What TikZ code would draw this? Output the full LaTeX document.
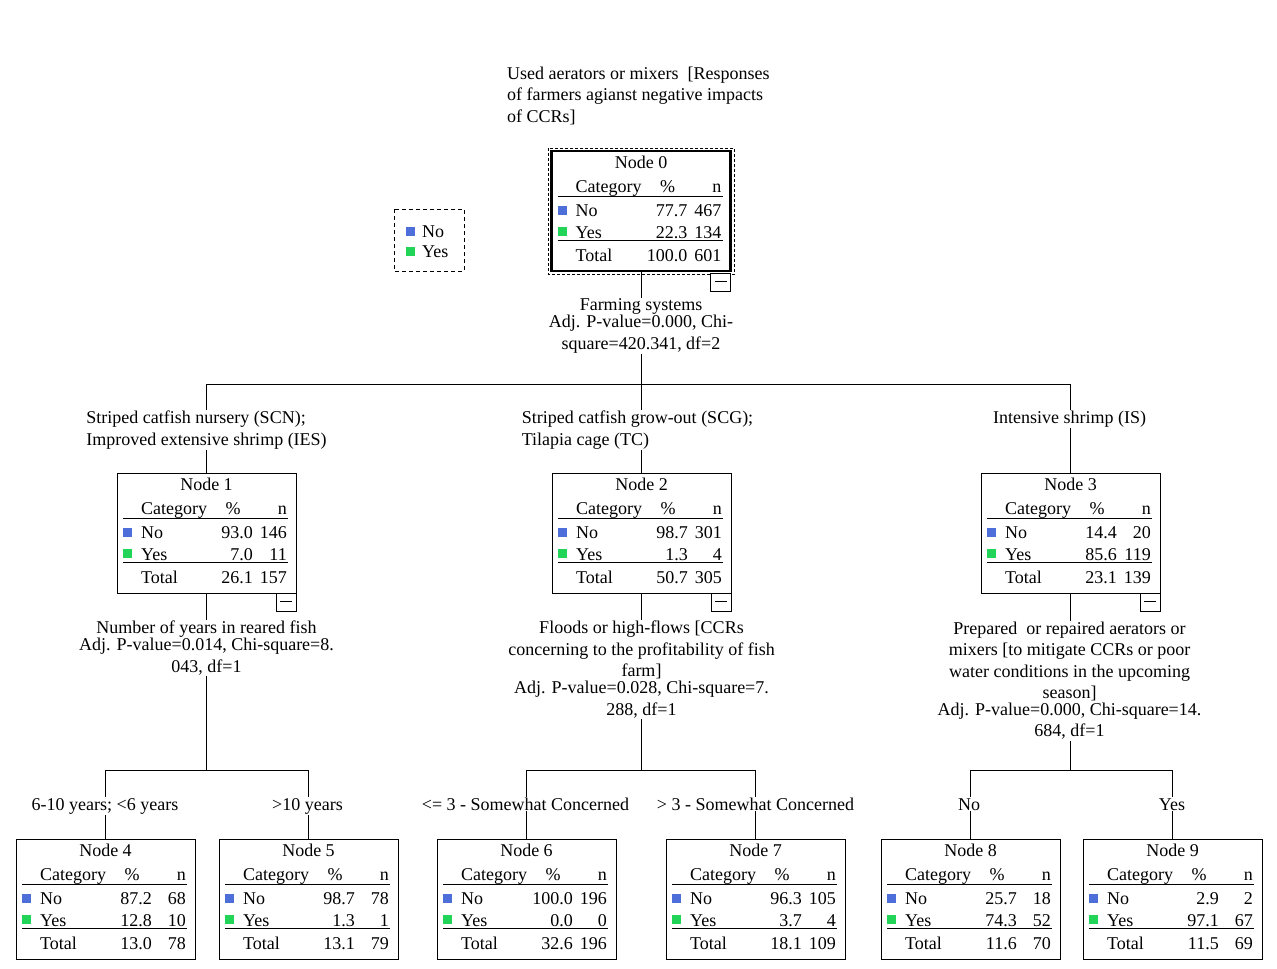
\documentclass[tikz,border=0pt]{standalone}
\usepackage{fontspec}
\setmainfont{Liberation Serif}
\usetikzlibrary{calc}
\definecolor{nocol}{RGB}{78,110,218}
\definecolor{yescol}{RGB}{34,212,88}
\tikzset{
  txt/.style={inner sep=0pt, font=\fontsize{18}{21.5}\selectfont},
  boxnode/.style={draw, line width=1pt, minimum width=179pt, minimum height=120pt, inner sep=0pt, outer sep=0pt, anchor=north west},
  cbox/.style={draw, fill=white, line width=1pt, minimum width=20pt, minimum height=18pt, inner sep=0pt, outer sep=0pt, anchor=north east},
  lbl/.style={txt, fill=white, inner sep=1pt, align=center, anchor=north},
  lbll/.style={txt, fill=white, inner sep=1pt, align=left, anchor=north},
  leaflbl/.style={txt, fill=white, inner sep=1pt, anchor=base},
  conn/.style={line width=1pt},
  sepline/.style={line width=1pt},
}
\newcommand\statbox[9]{%
  \node[boxnode] (n#1) at (#2,#3) {};
  \node[txt, anchor=base] (n#1t) at ($(n#1.north west)+(89.5,17)$) {Node #1};
  \node[txt, anchor=base west] (n#1c) at ($(n#1.north west)+(24,41.5)$) {Category};
  \node[txt, anchor=base] (n#1p) at ($(n#1.north west)+(116,41.5)$) {\%};
  \node[txt, anchor=base east] (n#1n) at ($(n#1.north west)+(170,41.5)$) {n};
  \draw[sepline] ($(n#1.north west)+(6,45)$) -- ++(165,0);
  \fill[nocol] ($(n#1.north west)+(6,55)$) rectangle ++(9,9);
  \node[txt, anchor=base west] (n#1a) at ($(n#1.north west)+(24,65.5)$) {No};
  \node[txt, anchor=base east] (n#1ap) at ($(n#1.north west)+(136,65.5)$) {#4};
  \node[txt, anchor=base east] (n#1an) at ($(n#1.north west)+(170,65.5)$) {#5};
  \fill[yescol] ($(n#1.north west)+(6,75.5)$) rectangle ++(9,9);
  \node[txt, anchor=base west] (n#1b) at ($(n#1.north west)+(24,87)$) {Yes};
  \node[txt, anchor=base east] (n#1bp) at ($(n#1.north west)+(136,87)$) {#6};
  \node[txt, anchor=base east] (n#1bn) at ($(n#1.north west)+(170,87)$) {#7};
  \draw[sepline] ($(n#1.north west)+(6,89.5)$) -- ++(165,0);
  \node[txt, anchor=base west] (n#1s) at ($(n#1.north west)+(24,110)$) {Total};
  \node[txt, anchor=base east] (n#1sp) at ($(n#1.north west)+(136,110)$) {#8};
  \node[txt, anchor=base east] (n#1sn) at ($(n#1.north west)+(170,110)$) {#9};
}
\newcommand\collapsebox[2]{%
  \node[cbox] (c#1) at ($(n#1.south east)+(0,#2)$) {};
  \draw[line width=1pt] ($(c#1.center)+(-6,-1)$) -- ++(12,0);
}
\begin{document}
\begin{tikzpicture}[x=1pt,y=-1pt]
\useasboundingbox (0,0) rectangle (1277,969);
\fill[white] (0,0) rectangle (1277,969);

% title
\node[txt, align=left, anchor=north west] (title) at (507,66.7)
  {Used aerators or mixers\ \ [Responses\\of farmers agianst negative impacts\\of CCRs]};

% legend
\draw[line width=1pt, dash pattern=on 4pt off 3pt] (394,209) rectangle (464,271);
\fill[nocol] (406,226.5) rectangle ++(9,9);
\fill[yescol] (406,246.5) rectangle ++(9,9);
\node[txt, anchor=base west] (legno) at (422,237) {No};
\node[txt, anchor=base west] (legyes) at (422,257) {Yes};

% boxes
\statbox{0}{551.5}{151}{77.7}{467}{22.3}{134}{100.0}{601}
\draw[line width=2.5pt] (n0.north west) rectangle (n0.south east);
\draw[line width=1pt, dash pattern=on 3pt off 2pt] (548,148) rectangle (734.5,274);
\statbox{1}{117}{473}{93.0}{146}{7.0}{11}{26.1}{157}
\statbox{2}{552}{473}{98.7}{301}{1.3}{4}{50.7}{305}
\statbox{3}{981}{473}{14.4}{20}{85.6}{119}{23.1}{139}
\statbox{4}{16}{839}{87.2}{68}{12.8}{10}{13.0}{78}
\statbox{5}{219}{839}{98.7}{78}{1.3}{1}{13.1}{79}
\statbox{6}{437}{839}{100.0}{196}{0.0}{0}{32.6}{196}
\statbox{7}{666}{839}{96.3}{105}{3.7}{4}{18.1}{109}
\statbox{8}{881}{839}{25.7}{18}{74.3}{52}{11.6}{70}
\statbox{9}{1083}{839}{2.9}{2}{97.1}{67}{11.5}{69}

% connectors
\coordinate (b0) at (641,384);
\coordinate (b1) at (206.5,770);
\coordinate (b2) at (641.5,770);
\coordinate (b3) at (1070.5,770);
\draw[conn] (n0.south) -- (b0) -| (n1.north);
\draw[conn] (b0) -| (n2.north);
\draw[conn] (b0) -| (n3.north);
\draw[conn] (n1.south) -- (b1) -| (n4.north);
\draw[conn] (b1) -| (n5.north);
\draw[conn] (n2.south) -- (b2) -| (n6.north);
\draw[conn] (b2) -| (n7.north);
\draw[conn] (n3.south) -- (b3) -| (n8.north);
\draw[conn] (b3) -| (n9.north);

% collapse boxes
\collapsebox{0}{2}
\collapsebox{1}{0}
\collapsebox{2}{0}
\collapsebox{3}{0}

% split labels
\node[lbl] (s0) at (641,297.7)
  {Farming systems\\[-4.5pt]Adj. P-value=0.000, Chi-\\square=420.341, df=2};
\node[lbl] (s1) at (206.5,619.7)
  {Number of years in reared fish\\[-4.5pt]Adj. P-value=0.014, Chi-square=8.\\043, df=1};
\node[lbl] (s2) at (641.5,619.7)
  {Floods or high-flows [CCRs\\concerning to the profitability of fish\\farm]\\[-4.5pt]Adj. P-value=0.028, Chi-square=7.\\288, df=1};
\node[lbl] (s3) at (1069.5,620.7)
  {Prepared\ \ or repaired aerators or\\mixers [to mitigate CCRs or poor\\water conditions in the upcoming\\season]\\[-5pt]Adj. P-value=0.000, Chi-square=14.\\684, df=1};

% branch labels
\node[lbll] (e1) at (206.5,409.7) {Striped catfish nursery (SCN);\\Improved extensive shrimp (IES)};
\node[lbll] (e2) at (637.5,409.7) {Striped catfish grow-out (SCG);\\Tilapia cage (TC)};
\node[lbll] (e3) at (1069.5,409.7) {Intensive shrimp (IS)};
\node[leaflbl] (e4) at (105,810) {6-10 years; <6 years};
\node[leaflbl] (e5) at (307.5,810) {>10 years};
\node[leaflbl] (e6) at (525.5,810) {<= 3 - Somewhat Concerned};
\node[leaflbl] (e7) at (755.5,810) {> 3 - Somewhat Concerned};
\node[leaflbl] (e8) at (969,810) {No};
\node[leaflbl] (e9) at (1172,810) {Yes};
\end{tikzpicture}
\end{document}
